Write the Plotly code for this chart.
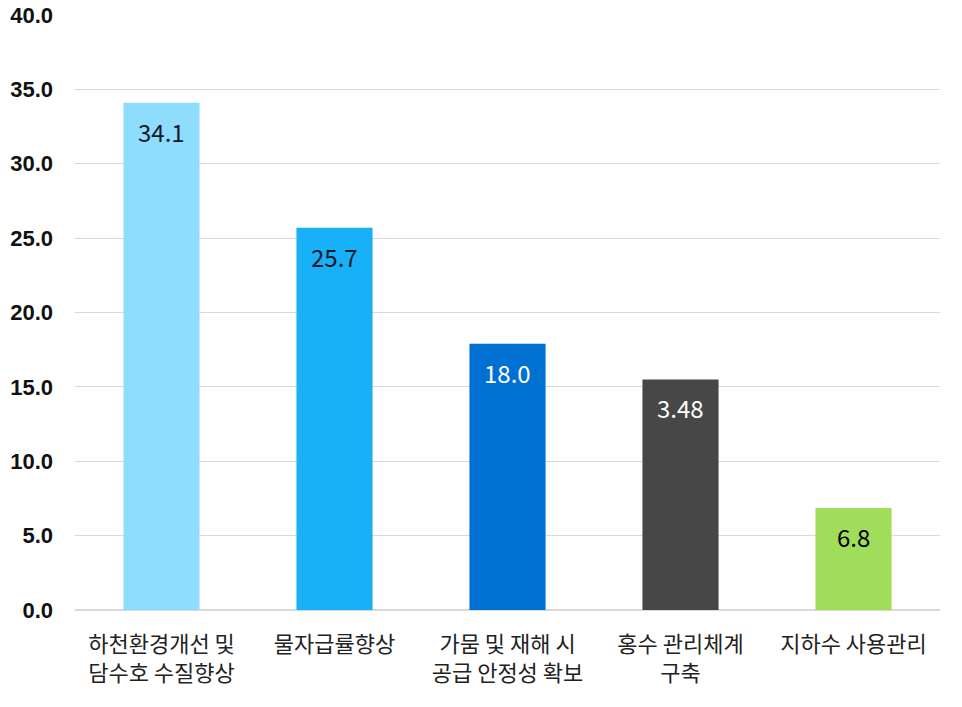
import plotly.graph_objects as go

categories = ["하천환경개선 및<br>담수호 수질향상", "물자급률향상", "가뭄 및 재해 시<br>공급 안정성 확보",
              "홍수 관리체계<br>구축", "지하수 사용관리"]
values = [34.1, 25.7, 17.9, 15.5, 6.85]
value_labels = ["34.1", "25.7", "18.0", "3.48", "6.8"]
bar_colors = ["#8FDDFC", "#18B0F6", "#0070D2", "#474747", "#A0DD5B"]
label_colors = ["#10182A", "#10182A", "#FFFFFF", "#FFFFFF", "#000000"]
y_ticks = [0, 5, 10, 15, 20, 25, 30, 35, 40]

fig = go.Figure()
fig.add_trace(go.Bar(
    x=categories, y=values, marker=dict(color=bar_colors, line=dict(width=0)),
    width=0.44, hoverinfo="skip",
))
for c, v, t, col in zip(categories, values, value_labels, label_colors):
    fig.add_annotation(x=c, y=v, text=t, showarrow=False, yanchor="top", yshift=-9,
                       font=dict(family="Noto Sans CJK KR, sans-serif", size=24, color=col))

fig.update_layout(
    width=962, height=707, margin=dict(l=75, r=22, t=15, b=97, autoexpand=False),
    paper_bgcolor="white", plot_bgcolor="white", showlegend=False,
    font=dict(family="Noto Sans CJK KR, sans-serif", color="#222222"),
)
fig.update_xaxes(tickfont=dict(size=22, color="#222222"), showgrid=False, showline=False,
                 ticks="", ticklabelstandoff=19, automargin=False)
fig.update_yaxes(range=[0, 40], tickvals=y_ticks, ticktext=[f"{t:.1f}" for t in y_ticks],
                 tickfont=dict(family="Liberation Sans, Arial, sans-serif", size=22, color="#111111",
                               weight="bold"),
                 showgrid=True, gridcolor="#D9D9D9", gridwidth=1, zeroline=True,
                 zerolinecolor="#D9D9D9", showline=False, ticks="", ticklabelstandoff=21,
                 automargin=False)

fig.write_html("out.html")
